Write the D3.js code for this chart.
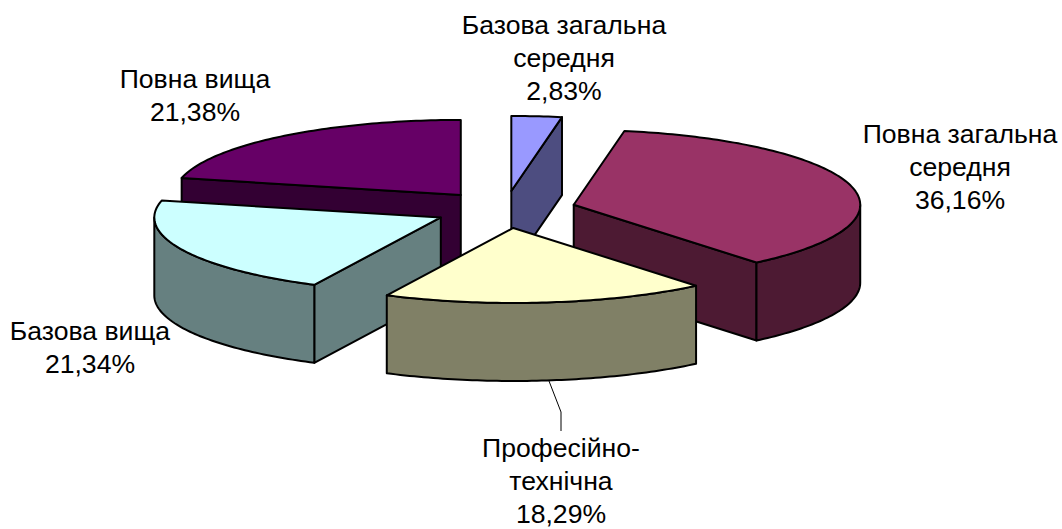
<!DOCTYPE html>
<html><head><meta charset="utf-8">
<script src="https://cdn.jsdelivr.net/npm/d3@7/dist/d3.min.js"></script>
<style>html,body{margin:0;padding:0;background:#fff}svg{display:block}text{font-family:"Liberation Sans",Arial,sans-serif;font-size:26.6px;fill:#000;text-anchor:middle}</style>
</head><body><svg id="c" width="1062" height="529"></svg>
<script>
const categories = ["Базова загальна середня","Повна загальна середня","Професійно-технічна","Базова вища","Повна вища"];
const values = [2.83,36.16,18.29,21.34,21.38];
const valueLabels = ["2,83%","36,16%","18,29%","21,34%","21,38%"];
const labelLines = [["Базова загальна","середня"],["Повна загальна","середня"],["Професійно-","технічна"],["Базова вища"],["Повна вища"]];
const topColors = ["#9999FF","#993366","#FFFFCC","#CCFFFF","#660066"];
const sideColors = ["#4D4D80","#4D1A33","#808066","#668080","#330033"];
const labelX = [564,960,561,90,195];
const labelY = [34,143,457,340,87.5];
const drawOrder = [4,0,1,3,2];

const W=1062,H=529, explode=0.248, depth=78;
const sx=d3.scaleLinear().domain([-1,1]).range([505-286.5,505+286.5]);
const sy=d3.scaleLinear().domain([-1,1]).range([209.5+75,209.5-75]);
const svg=d3.select("#c");
const pie=d3.pie().sort(null).value(d=>d)(values);
const line=d3.line();
const deg=Math.PI/180;

function P(o,t,r,dz){
  return [sx(explode*Math.sin(o)+r*Math.sin(t)), sy(explode*Math.cos(o)+r*Math.cos(t))+dz];
}
function arcPts(o,a,b,dz){
  const n=Math.max(2,Math.ceil((b-a)/deg));
  return d3.range(n+1).map(i=>P(o,a+(b-a)*i/n,1,dz));
}
const g=svg.append("g").attr("stroke","#000").attr("stroke-width",2).attr("stroke-linejoin","round");
drawOrder.forEach(i=>{
  const s=pie[i],a=s.startAngle,b=s.endAngle,m=(a+b)/2;
  const face=t=>[P(m,t,0,0),P(m,t,1,0),P(m,t,1,depth),P(m,t,0,depth)];
  if(Math.cos(a-Math.PI/2)<-1e-6) g.append("path").attr("fill",sideColors[i]).attr("d",line(face(a))+"Z");
  if(Math.cos(b+Math.PI/2)<-1e-6) g.append("path").attr("fill",sideColors[i]).attr("d",line(face(b))+"Z");
  const f0=Math.max(a,Math.PI/2),f1=Math.min(b,3*Math.PI/2);
  if(f1>f0) g.append("path").attr("fill",sideColors[i])
    .attr("d",line(arcPts(m,f0,f1,0).concat(arcPts(m,f0,f1,depth).reverse()))+"Z");
  g.append("path").attr("fill",topColors[i])
    .attr("d",line([P(m,a,0,0)].concat(arcPts(m,a,b,0)))+"Z");
});
svg.append("path").attr("fill","none").attr("stroke","#000").attr("stroke-width",1)
  .attr("d",line([[549,381],[561,412],[561,431]]));
const lh=33;
categories.forEach((c,i)=>{
  const lines=labelLines[i].concat([valueLabels[i]]);
  const t=svg.append("text").attr("aria-label",c);
  lines.forEach((l,j)=>t.append("tspan").attr("x",labelX[i]).attr("y",labelY[i]+j*lh).text(l));
});
</script></body></html>
